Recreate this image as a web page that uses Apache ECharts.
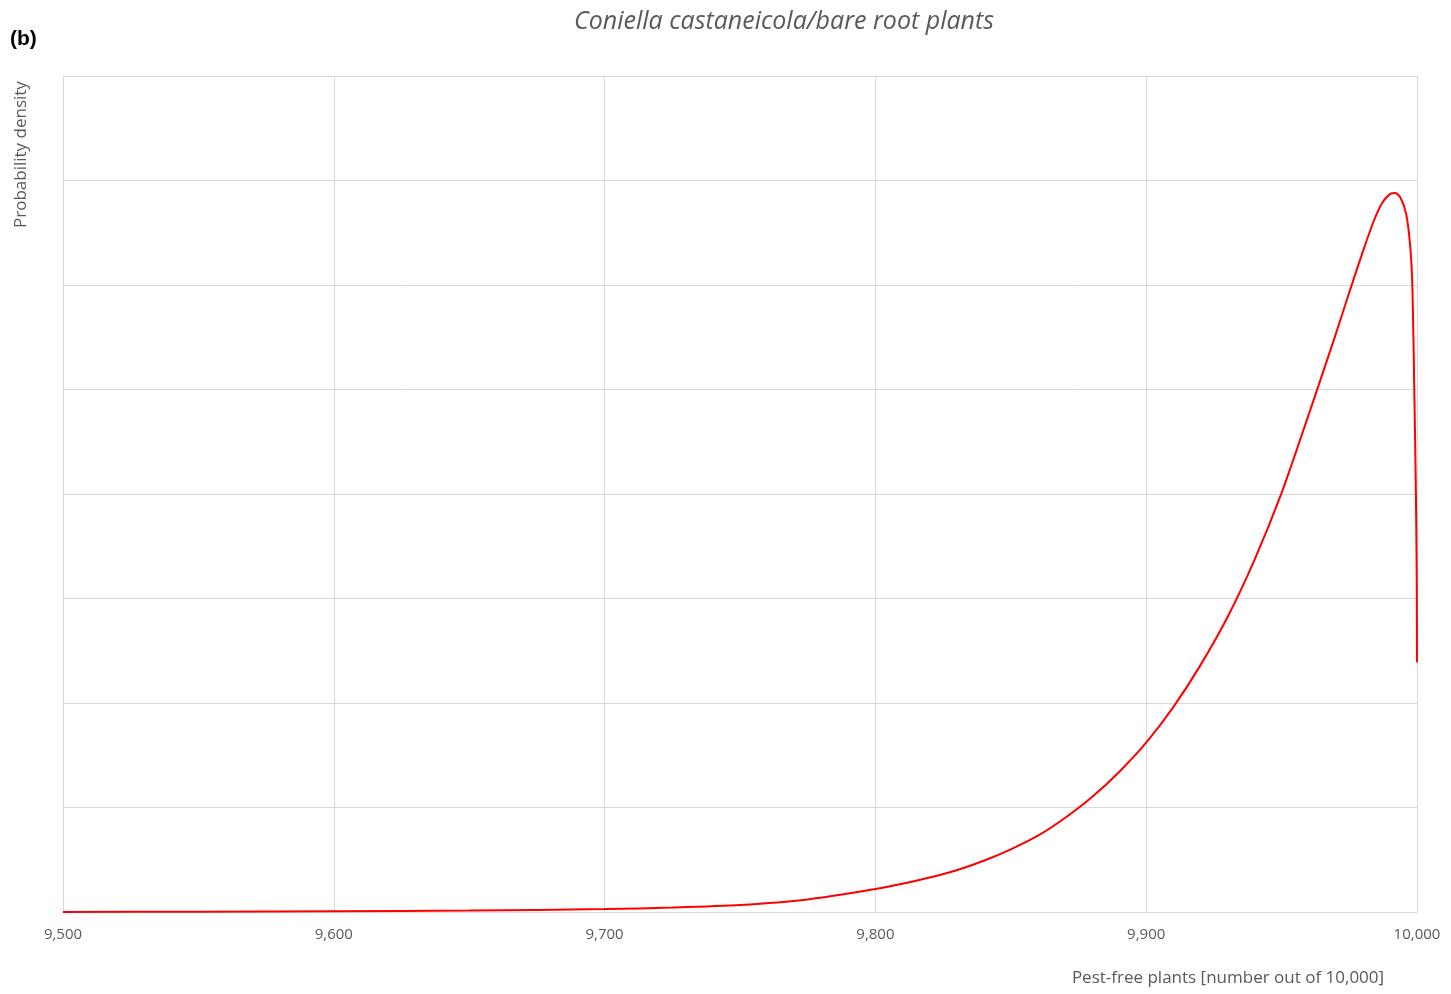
<!DOCTYPE html>
<html>
<head>
<meta charset="utf-8">
<script src="https://cdn.jsdelivr.net/npm/echarts@6/dist/echarts.min.js"></script>
<style>html,body{margin:0;padding:0;background:#fff;}#c{width:1451px;height:994px;}</style>
</head>
<body>
<div id="c"></div>
<script>
const chartTitle = 'Coniella castaneicola/bare root plants';
const panelLabel = '(b)';
const xAxisTitle = 'Pest-free plants [number out of 10,000]';
const yAxisTitle = 'Probability density';
const xTicks = [9500, 9600, 9700, 9800, 9900, 10000];
const pestFree = [9500, 9550, 9600, 9650, 9700, 9725, 9750, 9775, 9800, 9810, 9820, 9830, 9840, 9850, 9860, 9870, 9880, 9890, 9900, 9910, 9920, 9930, 9940, 9950, 9960, 9970, 9975, 9980, 9984, 9987, 9990, 9992, 9994, 9996, 9997.5, 9998.3, 9999, 9999.6, 9999.9, 10000];
const density = [0.001, 0.003, 0.007, 0.014, 0.028, 0.043, 0.067, 0.12, 0.22, 0.27, 0.33, 0.40, 0.49, 0.60, 0.73, 0.90, 1.10, 1.34, 1.62, 1.96, 2.36, 2.82, 3.37, 4.01, 4.76, 5.53, 5.93, 6.32, 6.61, 6.78, 6.87, 6.88, 6.83, 6.68, 6.37, 5.98, 5.00, 4.00, 3.20, 2.39];

const fmt = v => v.toLocaleString('en-US');
const chart = echarts.init(document.getElementById('c'));
chart.setOption({
  animation: false,
  backgroundColor: '#fff',
  title: {
    text: chartTitle,
    left: 779, top: 4, textAlign: 'center',
    textStyle: {fontFamily: 'Open Sans', fontStyle: 'italic', fontWeight: 'normal', fontSize: 25, color: '#595959'}
  },
  graphic: [
    {type: 'text', left: 10, top: 29, style: {text: panelLabel, font: 'bold 21px "Liberation Sans"', fill: '#000'}},
    {type: 'text', x: 21, y: 228, rotation: Math.PI / 2, style: {text: yAxisTitle, font: '17px "Open Sans"', fill: '#595959', align: 'left', verticalAlign: 'middle'}},
    {type: 'text', x: 1228, y: 978, style: {text: xAxisTitle, font: '17px "Open Sans"', fill: '#595959', align: 'center', verticalAlign: 'middle'}}
  ],
  grid: {left: 63, right: 34, top: 76, bottom: 82, containLabel: false},
  xAxis: {
    type: 'value', min: xTicks[0], max: xTicks[xTicks.length - 1], interval: 100,
    axisLine: {show: true, lineStyle: {color: '#d9d9d9', width: 1}},
    axisTick: {show: false},
    axisLabel: {formatter: fmt, color: '#595959', fontFamily: 'Open Sans', fontSize: 15, margin: 15},
    splitLine: {show: true, lineStyle: {color: '#d9d9d9', width: 1}}
  },
  yAxis: {
    type: 'value', min: 0, max: 8, interval: 1,
    axisLine: {show: true, lineStyle: {color: '#d9d9d9', width: 1}},
    axisTick: {show: false},
    axisLabel: {show: false},
    splitLine: {show: true, lineStyle: {color: '#d9d9d9', width: 1}}
  },
  series: [{
    type: 'line',
    data: pestFree.map((x, i) => [x, density[i]]),
    showSymbol: false,
    smooth: 0.25,
    lineStyle: {color: '#ff0000', width: 2},
    itemStyle: {color: '#ff0000'}
  }]
});
</script>
</body>
</html>
